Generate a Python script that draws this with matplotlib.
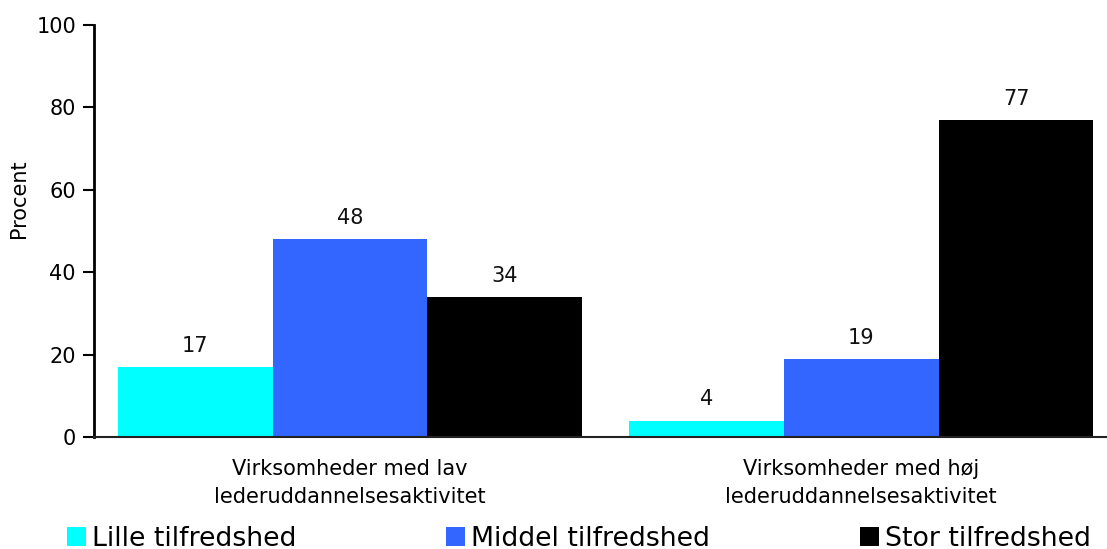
import matplotlib
matplotlib.use("Agg")
import matplotlib.pyplot as plt
import numpy as np

categories = ["Virksomheder med lav\nlederuddannelsesaktivitet",
              "Virksomheder med høj\nlederuddannelsesaktivitet"]
series_names = ["Lille tilfredshed", "Middel tilfredshed", "Stor tilfredshed"]
lille = [17, 4]
middel = [48, 19]
stor = [34, 77]
colors = ["#00FFFF", "#3366FF", "#000000"]
yticks = [0, 20, 40, 60, 80, 100]

plt.rcParams['font.family'] = ['DejaVu Sans']

W, H = 1107, 549
fig = plt.figure(figsize=(W / 100, H / 100), dpi=100)
ax = fig.add_axes([94 / W, (H - 437) / H, (W - 94) / W, 412 / H])

x = np.arange(len(categories))
bw = 0.303
allseries = [lille, middel, stor]
for i, (vals, name, col) in enumerate(zip(allseries, series_names, colors)):
    bars = ax.bar(x + (i - 1) * bw, vals, width=bw, color=col, label=name,
                  linewidth=0)
    for b, v in zip(bars, vals):
        ax.annotate(f"{v}", xy=(b.get_x() + b.get_width() / 2, v),
                    xytext=(0, 8), textcoords="offset points",
                    ha="center", va="bottom", fontsize=15, color="#111111")

ax.set_xlim(-0.501, 1.481)
ax.set_ylim(0, 100)
ax.set_yticks(yticks)
ax.set_xticks(x)
ax.set_xticklabels(categories, fontsize=15, linespacing=1.52)
ax.tick_params(axis="x", length=0, pad=15.5)
ax.tick_params(axis="y", length=8, width=1.5, pad=5, labelsize=15, direction="out")
for s in ["top", "right"]:
    ax.spines[s].set_visible(False)
ax.spines["left"].set_linewidth(2)
ax.spines["bottom"].set_linewidth(1.5)
ax.spines["bottom"].set_color("#222222")

ax.set_ylabel("Procent", fontsize=15, va="center")
ax.yaxis.set_label_coords(-0.074, 0.578)

handles, labels = ax.get_legend_handles_labels()
fig.legend(handles, labels, loc="center left",
           bbox_to_anchor=(67 / W, 1 - 539 / H), ncol=3, frameon=False,
           fontsize=19.3, handlelength=0.7, handleheight=0.7,
           handletextpad=0.23, columnspacing=5.6, borderpad=0,
           borderaxespad=0)

fig.savefig("out.png", dpi=100)
